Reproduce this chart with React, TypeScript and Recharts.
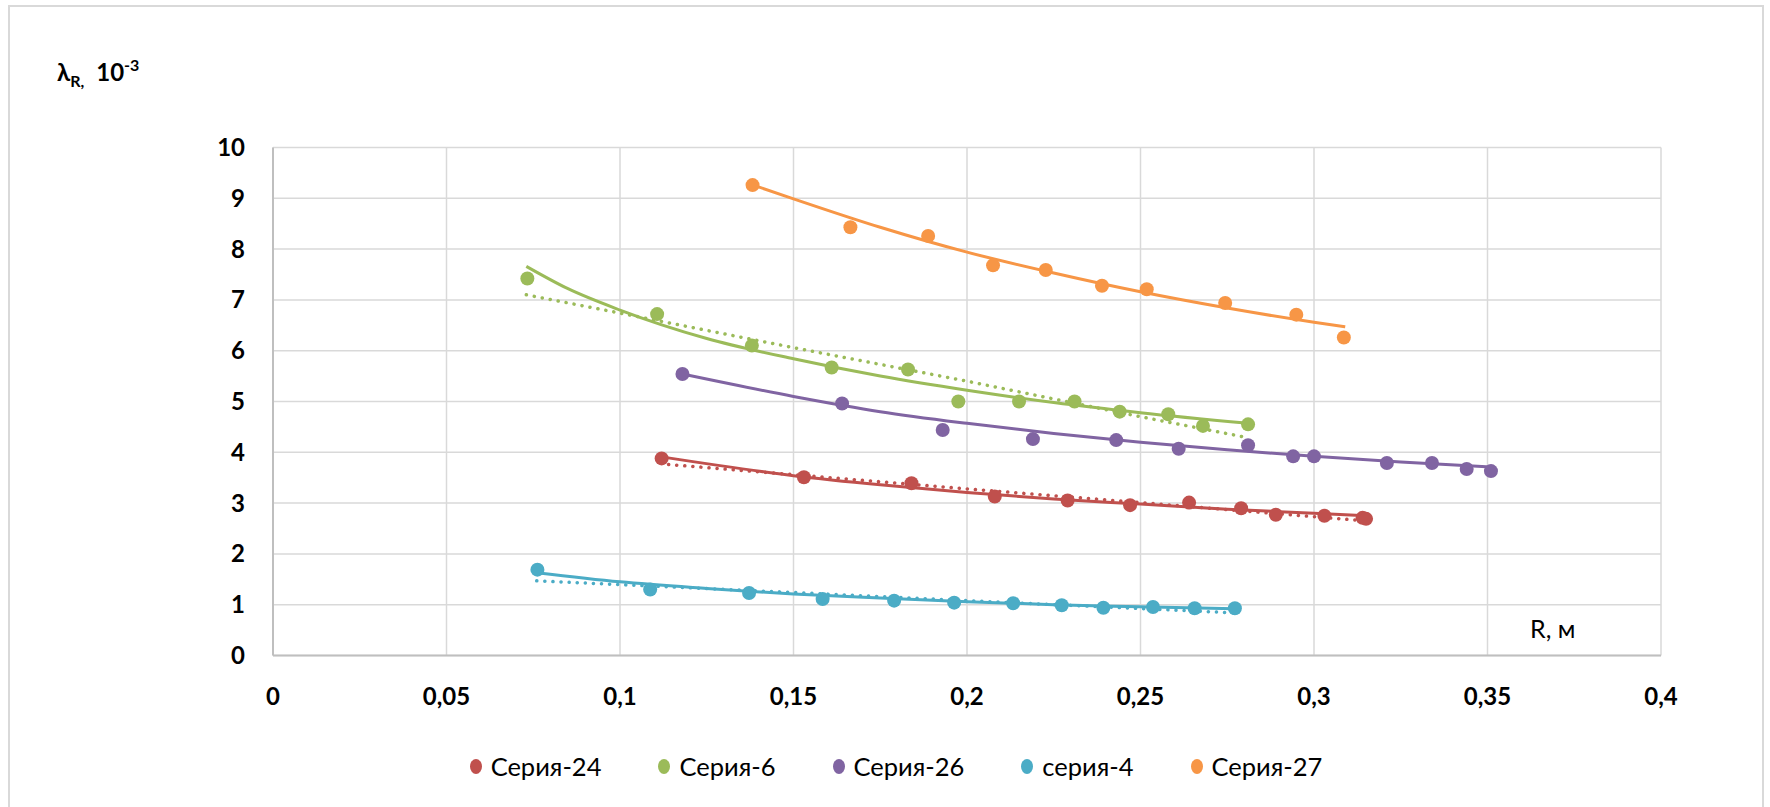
import React from 'react';
import { ComposedChart, Scatter, Line, XAxis, YAxis, CartesianGrid } from 'recharts';

// axis ticks
const xTicks = [0, 0.05, 0.1, 0.15, 0.2, 0.25, 0.3, 0.35, 0.4];
const yTicks = [0, 1, 2, 3, 4, 5, 6, 7, 8, 9, 10];

// Серия-24 (red)
const s24X = [0.112, 0.153, 0.184, 0.208, 0.229, 0.247, 0.264, 0.279, 0.289, 0.303, 0.314, 0.315];
const s24Y = [3.88, 3.51, 3.39, 3.13, 3.05, 2.96, 3.01, 2.9, 2.77, 2.75, 2.71, 2.69];
const s24PowX = [0.112, 0.15, 0.175, 0.2, 0.225, 0.25, 0.275, 0.3, 0.315];
const s24PowY = [3.91, 3.54, 3.36, 3.21, 3.08, 2.98, 2.88, 2.8, 2.75];
const s24LinX = [0.114, 0.15, 0.2, 0.25, 0.315];
const s24LinY = [3.76, 3.56, 3.28, 3.01, 2.65];

// Серия-6 (green)
const s6X = [0.0733, 0.1107, 0.138, 0.161, 0.183, 0.1975, 0.215, 0.231, 0.244, 0.258, 0.268, 0.281];
const s6Y = [7.42, 6.72, 6.1, 5.67, 5.63, 5.0, 5.0, 5.0, 4.8, 4.75, 4.52, 4.55];
const s6PowX = [0.073, 0.085, 0.1, 0.125, 0.15, 0.175, 0.2, 0.225, 0.25, 0.281];
const s6PowY = [7.66, 7.22, 6.8, 6.24, 5.84, 5.5, 5.22, 4.98, 4.78, 4.57];
const s6LinX = [0.073, 0.1, 0.15, 0.2, 0.25, 0.28];
const s6LinY = [7.1, 6.74, 6.06, 5.4, 4.7, 4.3];

// Серия-26 (purple)
const s26X = [0.118, 0.164, 0.193, 0.219, 0.243, 0.261, 0.281, 0.294, 0.3, 0.321, 0.334, 0.344, 0.351];
const s26Y = [5.54, 4.96, 4.44, 4.26, 4.24, 4.07, 4.14, 3.92, 3.92, 3.79, 3.79, 3.67, 3.63];
const s26PowX = [0.118, 0.15, 0.175, 0.2, 0.225, 0.25, 0.275, 0.3, 0.325, 0.351];
const s26PowY = [5.54, 5.1, 4.8, 4.57, 4.37, 4.2, 4.05, 3.92, 3.81, 3.71];

// серия-4 (cyan)
const s4X = [0.0762, 0.1087, 0.1372, 0.1584, 0.179, 0.1963, 0.2133, 0.2273, 0.2393, 0.2536, 0.2656, 0.2772];
const s4Y = [1.69, 1.3, 1.23, 1.11, 1.08, 1.04, 1.03, 0.99, 0.94, 0.955, 0.93, 0.93];
const s4PowX = [0.076, 0.1, 0.125, 0.15, 0.175, 0.2, 0.225, 0.25, 0.277];
const s4PowY = [1.63, 1.45, 1.32, 1.21, 1.13, 1.06, 1.0, 0.96, 0.92];
const s4LinX = [0.076, 0.15, 0.2, 0.277];
const s4LinY = [1.47, 1.24, 1.08, 0.84];

// Серия-27 (orange)
const s27X = [0.1382, 0.1664, 0.1888, 0.2075, 0.2227, 0.2389, 0.2518, 0.2744, 0.2949, 0.3086];
const s27Y = [9.26, 8.43, 8.26, 7.68, 7.59, 7.28, 7.21, 6.94, 6.71, 6.26];
const s27PowX = [0.138, 0.15, 0.175, 0.2, 0.225, 0.25, 0.275, 0.3, 0.309];
const s27PowY = [9.27, 8.99, 8.43, 7.94, 7.53, 7.16, 6.84, 6.56, 6.47];

const RED = '#C0504D';
const GREEN = '#9BBB59';
const PURPLE = '#8064A2';
const CYAN = '#4BACC6';
const ORANGE = '#F79646';

const pts = (xs: number[], ys: number[]) => xs.map((x, i) => ({ x, y: ys[i] }));

const legendItems = [
  { name: 'Серия-24', color: RED },
  { name: 'Серия-6', color: GREEN },
  { name: 'Серия-26', color: PURPLE },
  { name: 'серия-4', color: CYAN },
  { name: 'Серия-27', color: ORANGE },
];

const FONT = 'Lato, "Open Sans", "DejaVu Sans", sans-serif';

const dot = (color: string) => (p: any) => <circle cx={p.cx} cy={p.cy} r={7} fill={color} />;

const solid = (key: string, data: any[], color: string) => (
  <Line
    key={key}
    data={data}
    dataKey="y"
    type="monotone"
    stroke={color}
    strokeWidth={3}
    dot={false}
    activeDot={false}
    isAnimationActive={false}
  />
);

const dotted = (key: string, data: any[], color: string) => (
  <Line
    key={key}
    data={data}
    dataKey="y"
    type="linear"
    stroke={color}
    strokeWidth={3.5}
    strokeDasharray="0.1 8"
    strokeLinecap="round"
    dot={false}
    activeDot={false}
    isAnimationActive={false}
  />
);

export default function App() {
  return (
    <div
      style={{
        position: 'absolute',
        left: 0,
        top: 0,
        width: 1770,
        height: 807,
        overflow: 'hidden',
        background: '#fff',
        fontFamily: FONT,
      }}
    >
      <div
        style={{
          position: 'absolute',
          left: 8,
          top: 5,
          width: 1752,
          height: 840,
          border: '2px solid #d9d9d9',
        }}
      />
      <div style={{ position: 'absolute', left: 0, top: 0 }}>
        <ComposedChart width={1770} height={807} margin={{ top: 147.5, right: 109, bottom: 111.5, left: 0 }}>
          <CartesianGrid stroke="#d9d9d9" strokeWidth={1.5} />
          <XAxis
            type="number"
            dataKey="x"
            domain={[0, 0.4]}
            ticks={xTicks}
            height={40}
            tickSize={0}
            tickMargin={32}
            axisLine={{ stroke: '#bfbfbf', strokeWidth: 2 }}
            tick={{ fill: '#000', fontSize: 24, fontWeight: 700, fontFamily: FONT }}
            tickFormatter={(v: number) => String(v).replace('.', ',')}
            allowDataOverflow
          />
          <YAxis
            type="number"
            dataKey="y"
            domain={[0, 10]}
            ticks={yTicks}
            width={273}
            tickSize={0}
            tickMargin={28}
            axisLine={{ stroke: '#bfbfbf', strokeWidth: 2 }}
            tick={{ fill: '#000', fontSize: 24, fontWeight: 700, fontFamily: FONT }}
            allowDataOverflow
          />
          {solid('t24', pts(s24PowX, s24PowY), RED)}
          {dotted('l24', pts(s24LinX, s24LinY), RED)}
          {solid('t6', pts(s6PowX, s6PowY), GREEN)}
          {dotted('l6', pts(s6LinX, s6LinY), GREEN)}
          {solid('t26', pts(s26PowX, s26PowY), PURPLE)}
          {solid('t4', pts(s4PowX, s4PowY), CYAN)}
          {dotted('l4', pts(s4LinX, s4LinY), CYAN)}
          {solid('t27', pts(s27PowX, s27PowY), ORANGE)}
          <Scatter data={pts(s24X, s24Y)} dataKey="y" shape={dot(RED)} isAnimationActive={false} />
          <Scatter data={pts(s6X, s6Y)} dataKey="y" shape={dot(GREEN)} isAnimationActive={false} />
          <Scatter data={pts(s26X, s26Y)} dataKey="y" shape={dot(PURPLE)} isAnimationActive={false} />
          <Scatter data={pts(s4X, s4Y)} dataKey="y" shape={dot(CYAN)} isAnimationActive={false} />
          <Scatter data={pts(s27X, s27Y)} dataKey="y" shape={dot(ORANGE)} isAnimationActive={false} />
        </ComposedChart>
      </div>
      <svg width={1770} height={807} style={{ position: 'absolute', left: 0, top: 0, pointerEvents: 'none' }}>
        <text x={57} y={81} fontFamily={FONT} fontWeight={700} fontSize={24} fill="#000">
          λ
          <tspan fontSize={16} dy={6}>R,</tspan>
          <tspan fontSize={24} dx={12} dy={-6}>10</tspan>
          <tspan fontSize={16} dy={-10}>-3</tspan>
        </text>
        <text x={1530} y={638} fontFamily={FONT} fontSize={25} fill="#000">
          R, м
        </text>
      </svg>
      <div
        style={{
          position: 'absolute',
          left: 11,
          top: 751,
          width: 1770,
          display: 'flex',
          justifyContent: 'center',
          gap: 57,
          fontSize: 25.5,
          color: '#000',
          lineHeight: '30px',
        }}
      >
        {legendItems.map((it) => (
          <div key={it.name} style={{ display: 'flex', alignItems: 'center', gap: 9 }}>
            <span
              style={{ display: 'inline-block', width: 12, height: 15, borderRadius: '50%', background: it.color }}
            />
            <span>{it.name}</span>
          </div>
        ))}
      </div>
    </div>
  );
}
